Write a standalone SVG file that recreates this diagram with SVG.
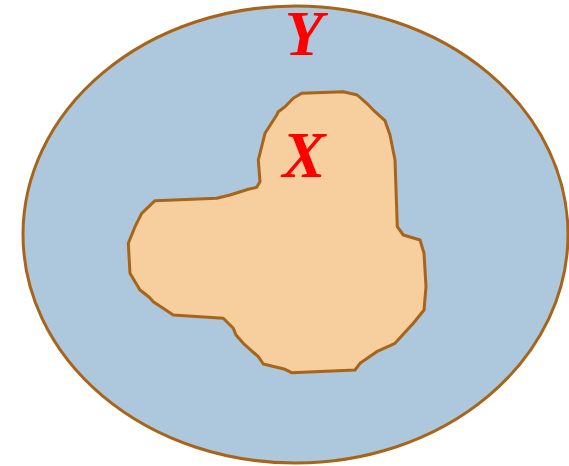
<svg xmlns="http://www.w3.org/2000/svg" width="569" height="466" viewBox="0 0 569 466">
<style>
.lbl{font-family:"Liberation Serif",serif;font-weight:bold;font-style:italic;fill:#FF0000;text-anchor:middle}
</style>
<rect width="569" height="466" fill="#FFFFFF"/>
<g id="Y">
<ellipse cx="295.5" cy="234.5" rx="272.5" ry="228.5" fill="#ADC7DC" stroke="#A8651A" stroke-width="3"/>
<text class="lbl" x="304" y="55" font-size="63">Y</text>
</g>
<g id="X">
<path d="M301.7,93.3 L343.3,91.7 L357.3,95 L366.7,103.3 L375,111.7 L385,120.7 L390,135 L395,160 L397.3,226.7 L403.3,235 L420,240 L424,253.3 L426,286.7 L424,310 L413.3,323.3 L395,343.3 L376.7,351.7 L360,363.3 L355,370 L291.7,372.7 L285,369.3 L263.3,364 L258.3,356.7 L243.3,343.3 L236,335 L233.3,328.3 L223.3,318.3 L173.3,315 L153.3,301.7 L149.3,297.3 L140,290 L130,273.3 L128.3,243.3 L135,226.7 L141.7,213.3 L155,200.7 L216.7,198.3 L230,195 L248.3,189.3 L256.7,187.3 L260,181.7 L258.3,160 L265,133.3 L276.7,115 L278.3,111.7 L285,106.7 L293.3,98.3 Z" fill="#F7CF9F" stroke="#A8651A" stroke-width="3" stroke-linejoin="round"/>
<text class="lbl" x="304" y="177" font-size="65">X</text>
</g>
<g id="connectors"/>
</svg>
